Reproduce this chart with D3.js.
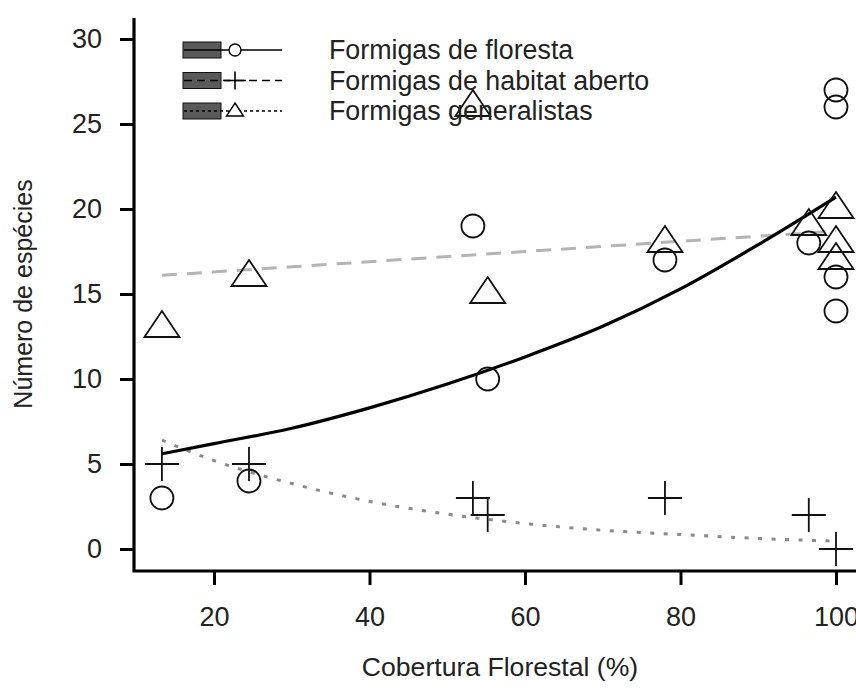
<!DOCTYPE html>
<html>
<head>
<meta charset="utf-8">
<script src="https://cdn.jsdelivr.net/npm/d3@7"></script>
<style>
  html, body { margin: 0; padding: 0; background: #fff; }
  svg { display: block; }
  text { font-family: "Liberation Sans", Arial, sans-serif; fill: #222; }
</style>
</head>
<body>
<svg id="chart" width="856" height="691"></svg>
<script>
// ---- data ----
const xTicks = [20, 40, 60, 80, 100];
const yTicks = [0, 5, 10, 15, 20, 25, 30];

// Formigas de floresta (circles)
const florestaX = [13.3, 24.5, 53.3, 55.2, 78, 96.5, 100, 100, 100, 100];
const florestaY = [3, 4, 19, 10, 17, 18, 27, 26, 16, 14];

// Formigas de habitat aberto (plus)
const abertoX = [13.3, 24.5, 53.3, 55.2, 78, 96.5, 100];
const abertoY = [5, 5, 3, 2, 3, 2, 0];

// Formigas generalistas (triangles)
const generalX = [13.3, 24.5, 53.3, 55.2, 78, 96.5, 100, 100, 100];
const generalY = [13, 16, 26, 15, 18, 19, 20, 18, 17];

// fitted curves
const fitX = [13.3, 20, 30, 40, 50, 60, 70, 80, 90, 100];
const fitFloresta = [5.6, 6.2, 7.1, 8.3, 9.7, 11.3, 13.1, 15.3, 17.9, 20.7];
const fitAberto = [6.4, 5.2, 3.85, 2.8, 2.05, 1.5, 1.1, 0.85, 0.62, 0.46];
const fitGeneral = [16.1, 16.3, 16.6, 16.9, 17.2, 17.5, 17.8, 18.1, 18.4, 18.7];

const legendLabels = ["Formigas de floresta", "Formigas de habitat aberto", "Formigas generalistas"];
const xTitle = "Cobertura Florestal (%)";
const yTitle = "Número de espécies";

// ---- drawing ----
const svg = d3.select("#chart");
const x = d3.scaleLinear().domain([20, 100]).range([214, 836]);
const y = d3.scaleLinear().domain([0, 30]).range([549, 39]);
const axisX0 = 134, axisY0 = 571;

// axes
const gy = svg.append("g").attr("transform", `translate(${axisX0},0)`)
  .call(d3.axisLeft(y).tickValues(yTicks).tickSize(14).tickSizeOuter(0).tickPadding(18));
gy.select(".domain").remove();
gy.selectAll(".tick line").attr("stroke", "#000").attr("stroke-width", 3);
gy.selectAll(".tick text").attr("font-size", 27).attr("fill", "#222")
  .attr("font-family", "Liberation Sans, Arial, sans-serif");

const gx = svg.append("g").attr("transform", `translate(0,${axisY0})`)
  .call(d3.axisBottom(x).tickValues(xTicks).tickSize(14).tickSizeOuter(0).tickPadding(22));
gx.select(".domain").remove();
gx.selectAll(".tick line").attr("stroke", "#000").attr("stroke-width", 3);
gx.selectAll(".tick text").attr("font-size", 27).attr("fill", "#222")
  .attr("font-family", "Liberation Sans, Arial, sans-serif");

// L-shaped box
svg.append("path")
  .attr("d", `M${axisX0},18 L${axisX0},${axisY0} L860,${axisY0}`)
  .attr("fill", "none").attr("stroke", "#000").attr("stroke-width", 3.2)
  .attr("stroke-linejoin", "miter");

// titles
svg.append("text").attr("x", 500).attr("y", 676).attr("text-anchor", "middle")
  .attr("font-size", 26.6).text(xTitle);
svg.append("text").attr("transform", "translate(32,294) rotate(-90)")
  .attr("text-anchor", "middle").attr("font-size", 25).text(yTitle);

// fitted lines
const line = d3.line().x(d => x(d[0])).y(d => y(d[1])).curve(d3.curveMonotoneX);
svg.append("path").datum(fitX.map((v, i) => [v, fitGeneral[i]]))
  .attr("d", line).attr("fill", "none").attr("stroke", "#b4b4b4")
  .attr("stroke-width", 3).attr("stroke-dasharray", "15,10");
svg.append("path").datum(fitX.map((v, i) => [v, fitAberto[i]]))
  .attr("d", line).attr("fill", "none").attr("stroke", "#8a8a8a")
  .attr("stroke-width", 3).attr("stroke-dasharray", "4,9.5");
svg.append("path").datum(fitX.map((v, i) => [v, fitFloresta[i]]))
  .attr("d", line).attr("fill", "none").attr("stroke", "#000")
  .attr("stroke-width", 3.2);

// markers
const mk = svg.append("g").attr("fill", "none").attr("stroke", "#111").attr("stroke-width", 1.8);
florestaX.forEach((v, i) => {
  mk.append("circle").attr("cx", x(v)).attr("cy", y(florestaY[i])).attr("r", 11.5);
});
abertoX.forEach((v, i) => {
  const cx = x(v), cy = y(abertoY[i]);
  mk.append("path").attr("d", `M${cx - 17},${cy} H${cx + 17} M${cx},${cy - 17} V${cy + 17}`);
});
generalX.forEach((v, i) => {
  const cx = x(v), cy = y(generalY[i]);
  mk.append("path").attr("d", `M${cx},${cy - 17} L${cx + 17.5},${cy + 9} L${cx - 17.5},${cy + 9} Z`);
});

// legend
const rowsY = [50, 80.5, 111];
const dashes = [null, "8,5", "3,3"];
const lg = svg.append("g");
legendLabels.forEach((lab, i) => {
  const cy = rowsY[i];
  lg.append("rect").attr("x", 183).attr("y", cy - 8).attr("width", 38).attr("height", 16)
    .attr("fill", "#5a5a5a").attr("stroke", "#111").attr("stroke-width", 1);
  lg.append("line").attr("x1", 184).attr("x2", 282).attr("y1", cy).attr("y2", cy)
    .attr("stroke", "#000").attr("stroke-width", 1.6)
    .attr("stroke-dasharray", dashes[i]);
  const mx = 235;
  if (i === 0) {
    lg.append("circle").attr("cx", mx).attr("cy", cy).attr("r", 6)
      .attr("fill", "#fff").attr("stroke", "#000").attr("stroke-width", 1.4);
  } else if (i === 1) {
    lg.append("path").attr("d", `M${mx - 11},${cy} H${mx + 11} M${mx},${cy - 9} V${cy + 9}`)
      .attr("stroke", "#000").attr("stroke-width", 1.6);
  } else {
    lg.append("path").attr("d", `M${mx},${cy - 8} L${mx + 8.5},${cy + 5} L${mx - 8.5},${cy + 5} Z`)
      .attr("fill", "#fff").attr("stroke", "#000").attr("stroke-width", 1.4);
  }
  lg.append("text").attr("x", 329).attr("y", cy).attr("dy", "0.35em")
    .attr("font-size", 26.8).text(lab);
});
</script>
</body>
</html>
